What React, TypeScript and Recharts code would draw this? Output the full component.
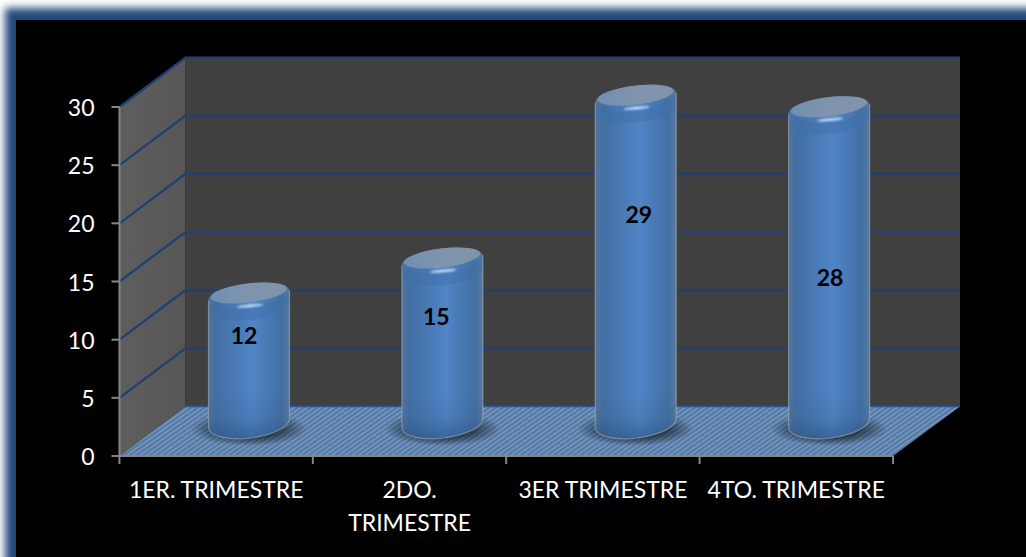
import React from 'react'
import {
  BarChart,
  Bar,
  XAxis,
  YAxis,
  ReferenceArea,
  ReferenceLine,
  LabelList,
} from 'recharts'

const CATEGORIES = ['1ER. TRIMESTRE', '2DO. TRIMESTRE', '3ER TRIMESTRE', '4TO. TRIMESTRE']
const VALUES = [12, 15, 29, 28]
const Y_TICKS = [0, 5, 10, 15, 20, 25, 30]
const WRAPPED_CATEGORIES = new Set(['2DO. TRIMESTRE'])

const chartData = CATEGORIES.map((name, i) => ({ name, value: VALUES[i] }))

const FONT = 'Lato, "Open Sans", sans-serif'
const AXIS_GREY = '#868686'
const GRID_BLUE = '#1f3f75'
const WIDTH = 1026
const HEIGHT = 557
const BAND = 193.5
// depth of the fake 3d box, and how far the cylinders sit inside it
const DEPTH_X = 66
const DEPTH_Y = 49.5
const BAR_DX = 33
const BAR_DY = -21
// the data labels were dragged by hand in the original
const LABEL_NUDGE = [
  [-5, -30],
  [-6, -32],
  [3, -52],
  [1, 5],
]

function Walls({ x, y, width, height }: any) {
  const r = x + width
  const b = y + height
  const bx = x + DEPTH_X
  const brx = r + DEPTH_X + 1
  const by = y - DEPTH_Y
  const bb = b - DEPTH_Y
  return (
    <g>
      <defs>
        <pattern id="floorStripes" patternUnits="userSpaceOnUse" width="3.8" height="3.8" patternTransform="rotate(-35)">
          <rect width="3.8" height="3.8" fill="#4c7ab0" />
          <rect width="3.8" height="1.8" fill="#7d94ae" />
        </pattern>
        <linearGradient id="sideWall" x1="0" y1="0" x2="1" y2="0">
          <stop offset="0" stopColor="#5e5e5e" />
          <stop offset="1" stopColor="#565656" />
        </linearGradient>
      </defs>
      <rect x={bx} y={by} width={brx - bx} height={bb - by} fill="#404040" />
      <polygon points={`${x},${y} ${bx},${by} ${bx},${bb} ${x},${b}`} fill="url(#sideWall)" />
      <polygon points={`${x},${b} ${bx},${bb} ${brx},${bb} ${r},${b}`} fill="url(#floorStripes)" />
    </g>
  )
}

function GridLine({ x1, y1, x2 }: any) {
  const isFloor = Math.abs(y1 - 456) < 1
  const points = `${x1},${y1} ${x1 + DEPTH_X},${y1 - DEPTH_Y} ${x2 + DEPTH_X + 1},${y1 - DEPTH_Y}`
  if (isFloor) {
    return (
      <line x1={x1 + DEPTH_X} y1={y1 - DEPTH_Y} x2={x2 + DEPTH_X + 1} y2={y1 - DEPTH_Y} stroke="#2a55a0" strokeWidth={1.5} />
    )
  }
  return <polyline points={points} fill="none" stroke={GRID_BLUE} strokeWidth={2.2} />
}

function Cylinder({ x, y, width, height }: any) {
  const rx = width / 2
  const cx = x + rx + BAR_DX
  const left = cx - rx
  const right = cx + rx
  const capY = y + BAR_DY
  const baseY = y + height + BAR_DY - 12
  const tilt = 5
  const capRy = 12
  const baseRy = 15
  const body = `M${left},${capY + tilt} A${rx},${capRy} -7 0 1 ${right},${capY - tilt} L${right},${baseY - tilt} A${rx},${baseRy} -7 0 1 ${left},${baseY + tilt} Z`
  const foot = `M${left},${baseY - 24} L${right},${baseY - 30} L${right},${baseY - tilt} A${rx},${baseRy} -7 0 1 ${left},${baseY + tilt} Z`
  const rim = `M${left},${capY + tilt} A${rx},${capRy} -7 0 0 ${right},${capY - tilt} L${right},${capY + 8} A${rx},${capRy} -7 0 1 ${left},${capY + tilt + 12} Z`
  return (
    <g>
      <ellipse cx={cx} cy={baseY + 6} rx={rx + 18} ry={17} fill="url(#cylShadow)" />
      <path d={body} fill="url(#cylBody)" />
      <path d={foot} fill="url(#cylFoot)" />
      <path d={rim} fill="#3f6fa9" opacity={0.45} />
      <path
        d={`M${left},${capY + tilt} L${left},${baseY + tilt} A${rx},${baseRy} -7 0 0 ${right},${baseY - tilt} L${right},${capY - tilt}`}
        fill="none"
        stroke="#aab4c2"
        strokeOpacity={0.55}
        strokeWidth={1.2}
      />
      <ellipse
        cx={cx}
        cy={capY - 2.5}
        rx={rx - 2}
        ry={9.5}
        transform={`rotate(-7 ${cx} ${capY})`}
        fill="url(#cylCap)"
      />
      <ellipse
        cx={cx + 1}
        cy={capY + 10.5}
        rx={13}
        ry={1.3}
        transform={`rotate(-5 ${cx} ${capY + 11})`}
        fill="#cfe3f7"
        filter="url(#softGlow)"
      />
    </g>
  )
}

function BarLabel({ x, y, width, height, value, index }: any) {
  const [nx, ny] = LABEL_NUDGE[index]
  return (
    <text
      x={x + width / 2 + BAR_DX + nx}
      y={y + height / 2 + BAR_DY + ny}
      textAnchor="middle"
      dominantBaseline="central"
      fontFamily={FONT}
      fontWeight={700}
      fontSize={23}
      fill="#000000"
    >
      {value}
    </text>
  )
}

function CategoryTick({ x, payload, index }: any) {
  const wrapped = WRAPPED_CATEGORIES.has(payload.value)
  const lines = wrapped ? payload.value.split(' ') : [payload.value]
  const isLast = index === CATEGORIES.length - 1
  const top = 456
  return (
    <g>
      <line x1={x - BAND / 2} y1={top} x2={x - BAND / 2} y2={top + 8} stroke={AXIS_GREY} strokeWidth={2} />
      {isLast && <line x1={x + BAND / 2} y1={top} x2={x + BAND / 2} y2={top + 8} stroke={AXIS_GREY} strokeWidth={2} />}
      <text textAnchor="middle" fontFamily={FONT} fontSize={23} fill="#ffffff">
        {lines.map((line: string, i: number) => (
          <tspan key={line} x={x} y={top + 42 + i * 33}>
            {line}
          </tspan>
        ))}
      </text>
    </g>
  )
}

function ValueTick({ x, y, payload }: any) {
  return (
    <text x={x} y={y + 9} textAnchor="end" fontFamily={FONT} fontSize={23} fill="#ffffff">
      {payload.value}
    </text>
  )
}

export default function App() {
  return (
    <div style={{ position: 'absolute', left: 0, top: 0, width: WIDTH, height: HEIGHT, overflow: 'hidden', background: '#fff' }}>
      <div
        style={{
          position: 'absolute',
          left: 16,
          top: 20,
          width: WIDTH + 40,
          height: HEIGHT + 40,
          background: '#000',
          boxShadow: '0 -1px 8px 11px #23497c',
        }}
      />
      <div style={{ position: 'absolute', left: 0, top: 0 }}>
        <svg width={0} height={0} style={{ position: 'absolute' }}>
          <defs>
            <linearGradient id="cylBody" x1="0" y1="0" x2="1" y2="0">
              <stop offset="0" stopColor="#52749c" />
              <stop offset="0.1" stopColor="#436fa4" />
              <stop offset="0.55" stopColor="#4f84c6" />
              <stop offset="0.9" stopColor="#436fa4" />
              <stop offset="1" stopColor="#587aa0" />
            </linearGradient>
            <linearGradient id="cylFoot" x1="0" y1="0" x2="0" y2="1">
              <stop offset="0" stopColor="#24476f" stopOpacity={0} />
              <stop offset="0.55" stopColor="#24476f" stopOpacity={0.12} />
              <stop offset="1" stopColor="#24476f" stopOpacity={0.5} />
            </linearGradient>
            <linearGradient id="cylCap" x1="0" y1="0" x2="1" y2="0">
              <stop offset="0" stopColor="#6f8fb4" />
              <stop offset="0.5" stopColor="#8094ad" />
              <stop offset="1" stopColor="#7f93aa" />
            </linearGradient>
            <radialGradient id="cylShadow">
              <stop offset="0.5" stopColor="#101820" stopOpacity={0.7} />
              <stop offset="1" stopColor="#101820" stopOpacity={0} />
            </radialGradient>
            <filter id="softGlow" x="-30%" y="-200%" width="160%" height="500%">
              <feGaussianBlur stdDeviation="0.8" />
            </filter>
          </defs>
        </svg>
        <BarChart
          width={WIDTH}
          height={HEIGHT}
          data={chartData}
          barSize={81}
          margin={{ top: 107, right: 133, bottom: 0, left: 0 }}
        >
          <ReferenceArea shape={<Walls />} zIndex={-200} />
          {Y_TICKS.map((t) => (
            <ReferenceLine key={t} y={t} shape={<GridLine />} zIndex={-100} />
          ))}
          <XAxis
            dataKey="name"
            interval={0}
            height={101}
            stroke={AXIS_GREY}
            axisLine={{ stroke: AXIS_GREY, strokeWidth: 2 }}
            tickLine={false}
            tick={<CategoryTick />}
            tickSize={0}
            tickMargin={0}
          />
          <YAxis
            width={119.5}
            domain={[0, 30]}
            ticks={Y_TICKS}
            interval={0}
            tickSize={8}
            tickMargin={17}
            stroke={AXIS_GREY}
            axisLine={{ stroke: AXIS_GREY, strokeWidth: 2 }}
            tickLine={{ stroke: AXIS_GREY, strokeWidth: 2 }}
            tick={<ValueTick />}
          />
          <Bar dataKey="value" shape={<Cylinder />} isAnimationActive={false}>
            <LabelList dataKey="value" content={<BarLabel />} />
          </Bar>
        </BarChart>
      </div>
    </div>
  )
}
